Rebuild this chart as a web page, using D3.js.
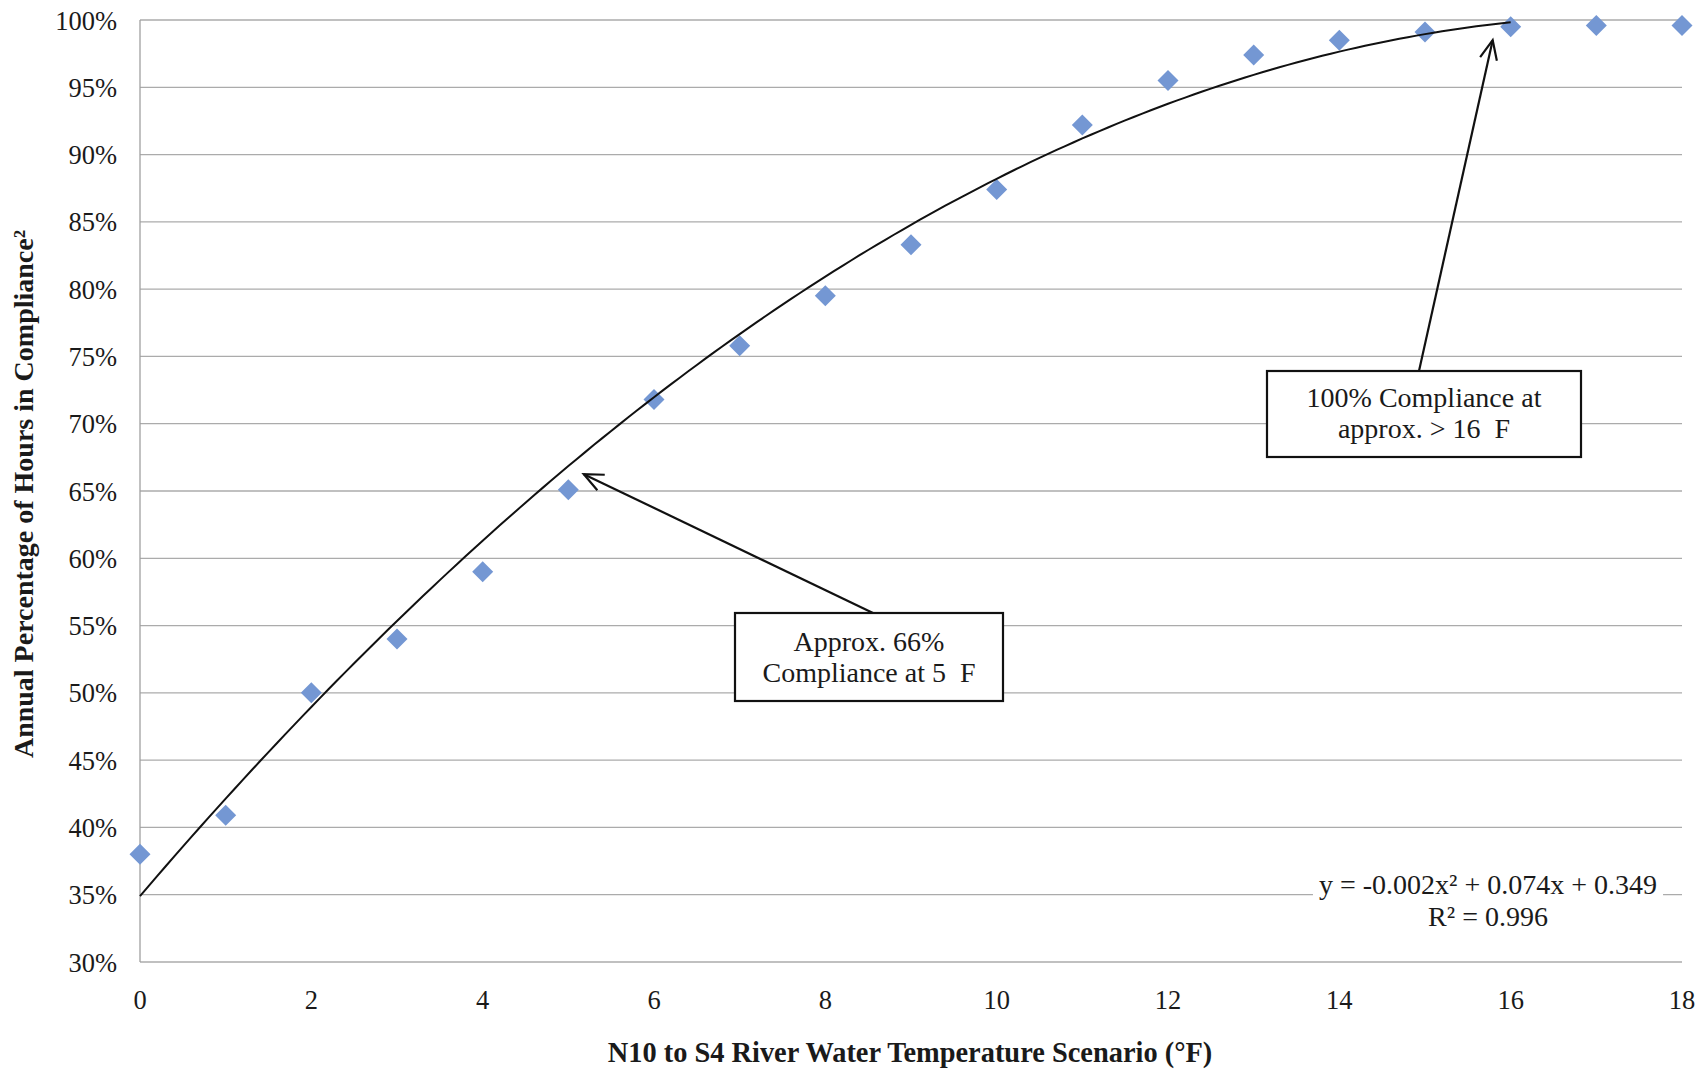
<!DOCTYPE html>
<html>
<head>
<meta charset="utf-8">
<script src="https://cdn.jsdelivr.net/npm/d3@7"></script>
<style>
  html, body { margin: 0; padding: 0; background: #fff; }
  svg { display: block; }
  text { font-family: "Liberation Serif", "Times New Roman", serif; fill: #1a1a1a; }
</style>
</head>
<body>
<svg id="chart" width="1701" height="1071"></svg>
<script>
// ---- data ----
const scenarios = [0, 1, 2, 3, 4, 5, 6, 7, 8, 9, 10, 11, 12, 13, 14, 15, 16, 17, 18];
const compliance = [0.380, 0.409, 0.500, 0.540, 0.590, 0.651, 0.718, 0.758, 0.795, 0.833, 0.874, 0.922, 0.955, 0.974, 0.985, 0.991, 0.995, 0.996, 0.996];
const trendCoefficients = [-0.00212, 0.0745, 0.349]; // a x^2 + b x + c (as drawn)
const trendRange = [0, 16];
const xTicks = [0, 2, 4, 6, 8, 10, 12, 14, 16, 18];
const yTicks = [0.30, 0.35, 0.40, 0.45, 0.50, 0.55, 0.60, 0.65, 0.70, 0.75, 0.80, 0.85, 0.90, 0.95, 1.00];
const xTitle = "N10 to S4 River Water Temperature Scenario (°F)";
const yTitle = "Annual Percentage of Hours in Compliance²";
const equationLines = ["y = -0.002x² + 0.074x + 0.349", "R² = 0.996"];
const note1Lines = ["Approx. 66%", "Compliance at 5  F"];
const note1Target = [5.18, 0.6625];
const note2Lines = ["100% Compliance at", "approx. > 16  F"];
const note2Target = [15.79, 0.985];

// ---- layout ----
const svg = d3.select("#chart");
const x = d3.scaleLinear().domain([0, 18]).range([140, 1682]);
const y = d3.scaleLinear().domain([0.30, 1.00]).range([962, 20]);

// gridlines
svg.append("g").selectAll("line").data(yTicks).join("line")
  .attr("x1", x(0)).attr("x2", x(18))
  .attr("y1", d => y(d)).attr("y2", d => y(d))
  .attr("stroke", "#ababab").attr("stroke-width", 1.3);

// left axis line
svg.append("line")
  .attr("x1", x(0)).attr("x2", x(0)).attr("y1", y(1.0)).attr("y2", y(0.30))
  .attr("stroke", "#a0a0a0").attr("stroke-width", 1.3);

// y tick labels
svg.append("g").selectAll("text").data(yTicks).join("text")
  .attr("x", 117).attr("y", d => y(d)).attr("dy", "0.36em")
  .attr("text-anchor", "end").attr("font-size", 26.5)
  .text(d3.format(".0%"));

// x tick labels
svg.append("g").selectAll("text").data(xTicks).join("text")
  .attr("x", d => x(d)).attr("y", 1009)
  .attr("text-anchor", "middle").attr("font-size", 26.5)
  .text(d => d);

// axis titles
svg.append("text").attr("x", 910).attr("y", 1062)
  .attr("text-anchor", "middle").attr("font-size", 28.4).attr("font-weight", "bold")
  .text(xTitle);
svg.append("text").attr("transform", "translate(33,494) rotate(-90)")
  .attr("text-anchor", "middle").attr("font-size", 28).attr("font-weight", "bold")
  .text(yTitle);

// equation (with white background)
const eqG = svg.append("g");
const eqBg = eqG.append("rect").attr("fill", "#fff");
const eqT = eqG.selectAll("text").data(equationLines).join("text")
  .attr("x", 1488).attr("y", (d, i) => 894 + i * 32)
  .attr("text-anchor", "middle").attr("font-size", 28)
  .text(d => d);
{
  const bb = eqT.nodes()[0].getBBox();
  eqBg.attr("x", bb.x - 6).attr("y", bb.y).attr("width", bb.width + 12).attr("height", bb.height + 34);
}

// data points (diamonds)
const pts = scenarios.map((s, i) => [s, compliance[i]]);
svg.append("g").selectAll("path").data(pts).join("path")
  .attr("transform", d => `translate(${x(d[0])},${y(d[1])})`)
  .attr("d", "M0,-10.5L10.5,0L0,10.5L-10.5,0Z")
  .attr("fill", "#7497d3");

// trendline
const [a, b, c] = trendCoefficients;
const trendX = d3.range(trendRange[0], trendRange[1] + 0.001, 0.1);
svg.append("path")
  .datum(trendX.map(t => [t, a * t * t + b * t + c]))
  .attr("d", d3.line().x(d => x(d[0])).y(d => y(d[1])).curve(d3.curveMonotoneX))
  .attr("fill", "none").attr("stroke", "#111").attr("stroke-width", 2);

// annotations
function arrow(from, to) {
  const g = svg.append("g").attr("stroke", "#111").attr("stroke-width", 2.2).attr("fill", "none");
  g.append("line").attr("x1", from[0]).attr("y1", from[1]).attr("x2", to[0]).attr("y2", to[1]);
  const ang = Math.atan2(from[1] - to[1], from[0] - to[0]);
  const L = 21, spread = 0.42;
  const p1 = [to[0] + L * Math.cos(ang + spread), to[1] + L * Math.sin(ang + spread)];
  const p2 = [to[0] + L * Math.cos(ang - spread), to[1] + L * Math.sin(ang - spread)];
  g.append("path").attr("d", `M${p1[0]},${p1[1]}L${to[0]},${to[1]}L${p2[0]},${p2[1]}`);
}
function box(bx, by, bw, bh, lines, baseline0) {
  svg.append("rect").attr("x", bx).attr("y", by).attr("width", bw).attr("height", bh)
    .attr("fill", "#fff").attr("stroke", "#111").attr("stroke-width", 2.2);
  svg.append("g").selectAll("text").data(lines).join("text")
    .attr("x", bx + bw / 2).attr("y", (d, i) => baseline0 + i * 31)
    .attr("text-anchor", "middle").attr("font-size", 28)
    .style("white-space", "pre")
    .text(d => d);
}
arrow([873, 613], [x(note1Target[0]), y(note1Target[1])]);
box(735, 613, 268, 88, note1Lines, 651);
arrow([1419, 371], [x(note2Target[0]), y(note2Target[1])]);
box(1267, 371, 314, 86, note2Lines, 407);
</script>
</body>
</html>
